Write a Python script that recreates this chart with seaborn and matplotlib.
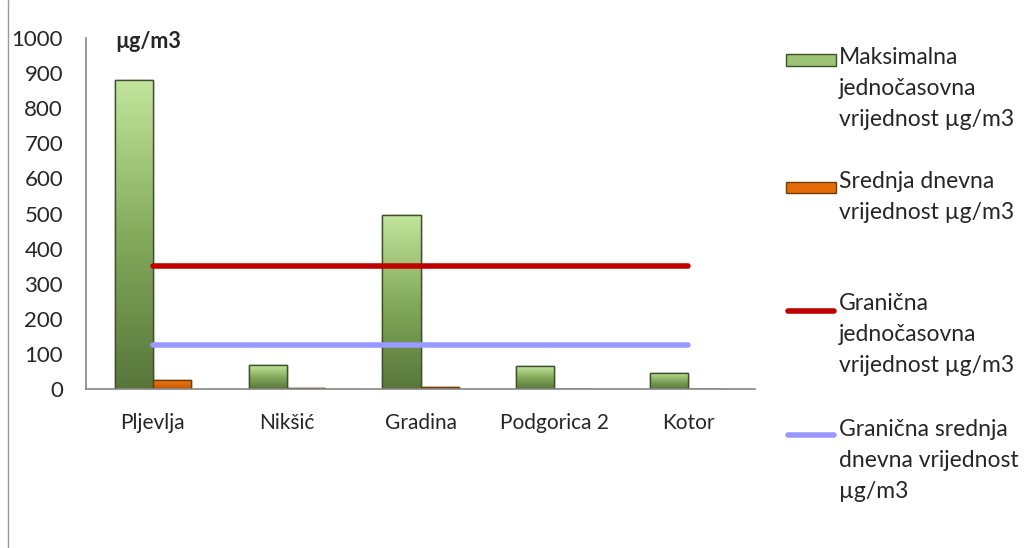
import numpy as np
import pandas as pd
import matplotlib
matplotlib.use("Agg")
import matplotlib.pyplot as plt
import seaborn as sns
from matplotlib.patches import Rectangle
from matplotlib.lines import Line2D

# data
stations = ["Pljevlja", "Nikšić", "Gradina", "Podgorica 2", "Kotor"]
max_hourly = [880, 68, 496, 65, 46]
mean_daily = [26, 2, 5, 1, 1]
limit_hourly = 350
limit_daily = 125

lbl_max = "Maksimalna\njednočasovna\nvrijednost µg/m3"
lbl_mean = "Srednja dnevna\nvrijednost µg/m3"
lbl_lim_h = "Granična\njednočasovna\nvrijednost µg/m3"
lbl_lim_d = "Granična srednja\ndnevna vrijednost\nµg/m3"

sns.set_style("white")
plt.rcParams["font.family"] = ["Lato", "DejaVu Sans"]

df = pd.DataFrame({
    "station": stations * 2,
    "value": max_hourly + mean_daily,
    "series": ["max"] * len(stations) + ["mean"] * len(stations),
})

fig = plt.figure(figsize=(10.33, 5.48), dpi=100)
ax = fig.add_axes([86 / 1033, 1 - 389 / 548, 669 / 1033, 351 / 548])

sns.barplot(data=df, x="station", y="value", hue="series", ax=ax,
            palette={"max": "#8fb565", "mean": "#e36c09"}, width=0.57,
            edgecolor="#3f4f2c", linewidth=1, legend=False, saturation=1)

# vertical gradient on the bars
grad = np.linspace(0, 1, 256).reshape(-1, 1)
green_cmap = matplotlib.colors.LinearSegmentedColormap.from_list(
    "g", ["#58763a", "#84ab5c", "#c2e59d"])
orange_cmap = matplotlib.colors.LinearSegmentedColormap.from_list(
    "o", ["#c85a05", "#f07a14"])
n = len(stations)
for i, p in enumerate(ax.patches[:2 * n]):
    cm = green_cmap if i < n else orange_cmap
    x0, y0 = p.get_x(), p.get_y()
    w, h = p.get_width(), p.get_height()
    if h <= 0:
        continue
    im = ax.imshow(grad, cmap=cm, origin="lower", aspect="auto",
                   extent=[x0, x0 + w, y0, y0 + h], zorder=p.get_zorder() + 0.1)
    im.set_clip_path(p)
    ax.add_patch(Rectangle((x0, y0), w, h, fill=False,
                           edgecolor="#3f4f2c" if i < n else "#7a3a05",
                           lw=1, zorder=p.get_zorder() + 0.2))

# limit lines
ax.plot([0, n - 1], [limit_hourly] * 2, color="#c00000", lw=4, solid_capstyle="round", zorder=5)
ax.plot([0, n - 1], [limit_daily] * 2, color="#9999ff", lw=4, solid_capstyle="round", zorder=5)

ax.set_xlim(-0.5, n - 0.5)
ax.set_ylim(0, 1000)
ax.set_yticks(range(0, 1001, 100))
ax.set_xlabel("")
ax.set_ylabel("")
ax.set_xticks(range(n))
ax.set_xticklabels(stations)
ax.set_xticks(np.arange(-0.5, n, 1), minor=True)
ax.tick_params(axis="x", which="major", length=0, labelsize=15, pad=17)
ax.tick_params(axis="x", which="minor", length=5, color="#868686", width=1, direction="out")
ax.tick_params(axis="y", length=6.5, color="#868686", width=1, direction="out", labelsize=16, pad=10)
ax.set_facecolor("none")
for s in ["top", "right"]:
    ax.spines[s].set_visible(False)
for s in ["left", "bottom"]:
    ax.spines[s].set_color("#868686")
    ax.spines[s].set_linewidth(1.2)

fig.text(115 / 1033, 1 - 42 / 548, "µg/m3", fontsize=15.5, fontweight="bold", va="center")

# frame edge on the left
fig.add_artist(Line2D([8 / 1033, 8 / 1033], [0, 1], color="#9a9a9a", lw=1))

# legend, drawn by hand to keep the wide line spacing
def fx(x):
    return x / 1033

def fy(y):
    return 1 - y / 548

fig.add_artist(Rectangle((fx(786), fy(66)), fx(50), 12 / 548, facecolor="#9cc474",
                         edgecolor="#3f4f2c", lw=1))
fig.add_artist(Rectangle((fx(786), fy(193)), fx(50), 11 / 548, facecolor="#e36c09",
                         edgecolor="#7a3a05", lw=1))
fig.add_artist(Line2D([fx(788), fx(834)], [fy(311)] * 2, color="#c00000", lw=4, solid_capstyle="round"))
fig.add_artist(Line2D([fx(788), fx(834)], [fy(435)] * 2, color="#9999ff", lw=4, solid_capstyle="round"))

for txt, ytop in [(lbl_max, 47), (lbl_mean, 171), (lbl_lim_h, 293), (lbl_lim_d, 419)]:
    fig.text(fx(839), fy(ytop), txt, fontsize=16.5, va="top", ha="left", linespacing=1.6)

fig.savefig("out.png", dpi=100)
